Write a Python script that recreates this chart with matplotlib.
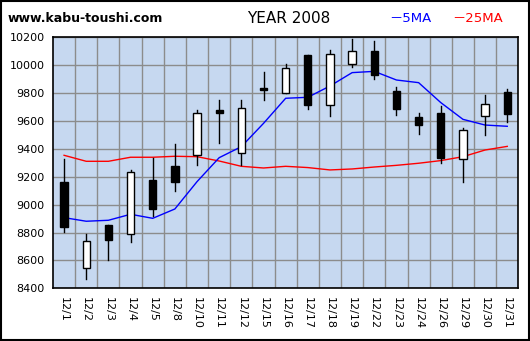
import matplotlib
matplotlib.use('Agg')
import matplotlib.pyplot as plt
from matplotlib.patches import Rectangle
import numpy as np

dates = ['12/1', '12/2', '12/3', '12/4', '12/5', '12/8', '12/10', '12/11', '12/12', '12/15',
         '12/16', '12/17', '12/18', '12/19', '12/22', '12/23', '12/24', '12/26', '12/29', '12/30', '12/31']
opens = [9163, 8544, 8854, 8788, 9177, 9277, 9354, 9679, 9373, 9837,
         9798, 10073, 9717, 10006, 10100, 9815, 9626, 9657, 9325, 9634, 9808]
highs = [9328, 8790, 8854, 9249, 9337, 9435, 9679, 9751, 9751, 9951,
         10009, 10073, 10109, 10188, 10174, 9844, 9657, 9708, 9548, 9787, 9830]
lows = [8807, 8470, 8603, 8735, 8921, 9101, 9287, 9445, 9287, 9751,
        9798, 9686, 9636, 9990, 9901, 9646, 9509, 9301, 9165, 9502, 9595]
closes = [8843, 8737, 8749, 9232, 8972, 9165, 9655, 9655, 9691, 9825,
          9978, 9717, 10078, 10100, 9932, 9689, 9574, 9337, 9536, 9722, 9653]
ma5 = [8907, 8881, 8888, 8931, 8902, 8969, 9165, 9337, 9416, 9583,
       9763, 9770, 9851, 9947, 9956, 9894, 9875, 9732, 9612, 9571, 9562]
ma25 = [9354, 9311, 9311, 9340, 9340, 9347, 9344, 9313, 9275, 9263,
        9275, 9266, 9249, 9256, 9270, 9282, 9297, 9316, 9344, 9392, 9418]
yticks = list(range(8400, 10201, 200))

fams = ['DejaVu Sans', 'Noto Sans CJK JP']

fig = plt.figure(figsize=(5.30, 3.41), dpi=100)
fig.patches.append(Rectangle((0.001, 0.002), 0.997, 0.995, transform=fig.transFigure,
                             fill=False, edgecolor='black', linewidth=1.5))
ax = fig.add_axes([0.1, 0.1545, 0.878, 0.736])
ax.set_facecolor('#c6d8f0')

x = np.arange(len(dates))
ax.plot(x, ma25, color='red', linewidth=1, zorder=3)
ax.plot(x, ma5, color='blue', linewidth=1, zorder=3)

w = 0.33
for i in x:
    o, h, l, c = opens[i], highs[i], lows[i], closes[i]
    ax.plot([i, i], [l, h], color='black', linewidth=1, zorder=4)
    top, bot = max(o, c), min(o, c)
    face = 'white' if c >= o else 'black'
    ax.add_patch(Rectangle((i - w / 2, bot), w, max(top - bot, 8), facecolor=face,
                           edgecolor='black', linewidth=1, zorder=5))

ax.set_xlim(-0.5, len(dates) - 0.5)
ax.set_ylim(8400, 10200)
ax.set_yticks(yticks)
ax.set_yticklabels([str(v) for v in yticks], fontsize=8)
ax.set_xticks(x)
ax.set_xticklabels(dates, rotation=-90, fontsize=8)
ax.set_xticks(np.arange(0.5, len(dates) - 1, 1), minor=True)
ax.tick_params(axis='both', which='both', length=0, pad=6)
ax.grid(True, which='minor', axis='x', color='#8c8c8c', linewidth=1)
ax.grid(True, which='major', axis='y', color='#8c8c8c', linewidth=1)
for s in ax.spines.values():
    s.set_linewidth(1.2)

fig.text(0.015, 0.945, 'www.kabu-toushi.com', fontsize=9, fontweight='bold', va='center')
fig.text(0.545, 0.945, 'YEAR 2008', fontsize=11, ha='center', va='center')
fig.text(0.735, 0.945, '－5MA', fontsize=9.5, color='blue', va='center', family=fams)
fig.text(0.853, 0.945, '－25MA', fontsize=9.5, color='red', va='center', family=fams)

fig.savefig('out.png', dpi=100)
